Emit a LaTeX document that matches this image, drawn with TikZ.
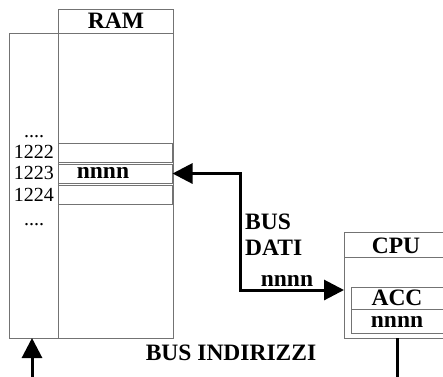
\documentclass[tikz,border=0pt]{standalone}
\usepackage{fontspec}
\setmainfont{Liberation Serif}
\usetikzlibrary{arrows.meta}
\tikzset{
    box/.style = {draw = black!55, line width = 0.8pt, inner sep = 0pt, outer sep = 0pt},
    cell/.style = {box, minimum width = 114.5pt, minimum height = 19pt},
    addr/.style = {inner sep = 0pt, font = \fontsize{20}{20}\selectfont},
    title/.style = {inner sep = 0pt, font = \fontsize{23.5}{23.5}\selectfont\bfseries},
    bus/.style = {line width = 3pt},
    tip/.style = {-{Triangle[length = 20pt, width = 20pt]}}
}

\begin{document}
\begin{tikzpicture}[x = 1pt, y = -1pt]
    \useasboundingbox (0, 0) rectangle (443, 376);
    % ram and its addresses
    \node [box, anchor = north west, minimum width = 49pt, minimum height = 305pt] (addr) at (9, 33) {};
    \node [box, anchor = north west, minimum width = 115pt, minimum height = 329pt] (ram) at (58, 9) {};
    \draw [box] (58, 33) -- (173, 33);
    \node [title] (ramlabel) at (116, 21) {RAM};
    \node [cell] (c1222) at (115.25, 152.5) {};
    \node [cell] (c1223) at (115.25, 173.5) {};
    \node [cell] (c1224) at (115.25, 194.5) {};
    \node [title] (word) at (103, 173) {nnnn};
    \node [addr, anchor = base] (dots1) at (34, 137) {....};
    \node [addr, anchor = east] (a1222) at (54, 152) {1222};
    \node [addr, anchor = east] (a1223) at (54, 173) {1223};
    \node [addr, anchor = east] (a1224) at (54, 195) {1224};
    \node [addr, anchor = base] (dots2) at (34, 225) {....};
    % cpu
    \node [box, anchor = north west, minimum width = 101pt, minimum height = 106pt] (cpu) at (344, 232) {};
    \draw [box] (344, 257) -- (445, 257);
    \node [box, anchor = north west, minimum width = 94pt, minimum height = 46pt] (acc) at (351, 287) {};
    \draw [box] (351, 309) -- (445, 309);
    \node [title] (cpulabel) at (396, 246) {CPU};
    \node [title] (acclabel) at (397, 298) {ACC};
    \node [title] (accword) at (397, 322) {nnnn};
    % buses
    \coordinate (dbus) at (240, 290);
    \draw [bus, {Triangle[length = 20pt, width = 20pt]}-{Triangle[length = 20pt, width = 20pt]}] (c1223.east) -| (dbus) -- (dbus -| cpu.west);
    \node [title, anchor = west] (busd1) at (245, 222) {BUS};
    \node [title, anchor = west] (busd2) at (245, 248) {DATI};
    \node [title] (busdword) at (287, 281) {nnnn};
    \coordinate (abus) at (32, 378);
    \draw [bus, tip] (cpu.south -| 397, 0) |- (abus) -- (addr.south -| abus);
    \node [title] (busa) at (231, 353) {BUS INDIRIZZI};
\end{tikzpicture}
\end{document}
